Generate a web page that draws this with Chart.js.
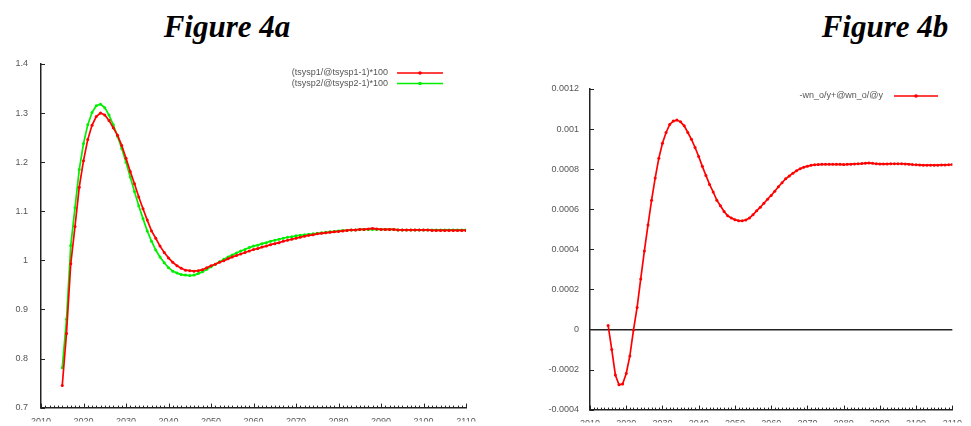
<!DOCTYPE html>
<html>
<head>
<meta charset="utf-8">
<script src="https://cdn.jsdelivr.net/npm/chart.js@4.4.1/dist/chart.umd.min.js"></script>
<style>
  html, body { margin: 0; padding: 0; background: #fff; }
  body { width: 971px; height: 426px; position: relative; overflow: hidden; }
  .title { position: absolute; top: 9px; width: 200px; text-align: center; line-height: 31px;
           font: bold italic 31px "Liberation Serif", "Times New Roman", serif; color: #000; }
  .box { position: absolute; top: 0; height: 426px; }
</style>
</head>
<body>
<div class="title" style="left:127px">Figure 4a</div>
<div class="title" style="left:785px">Figure 4b</div>
<div class="box" style="left:0; width:485px"><canvas id="chartA"></canvas></div>
<div class="box" style="left:490px; width:481px"><canvas id="chartB"></canvas></div>
<script>
// years 2015..2110
const years = [];
for (let y = 2015; y <= 2110; y++) years.push(y);

const sp1 = [
  0.745, 0.851, 0.993, 1.069, 1.149, 1.203, 1.246, 1.275, 1.293, 1.300,
  1.296, 1.285, 1.270, 1.255, 1.234, 1.208, 1.181, 1.156, 1.129, 1.105,
  1.082, 1.060, 1.045, 1.029, 1.016, 1.005, 0.996, 0.989, 0.984, 0.980,
  0.979, 0.978, 0.979, 0.981, 0.985, 0.989, 0.992, 0.996, 0.999, 1.003,
  1.007, 1.010, 1.013, 1.016, 1.019, 1.022, 1.024, 1.027, 1.029, 1.032,
  1.034, 1.036, 1.039, 1.041, 1.043, 1.045, 1.047, 1.049, 1.051, 1.052,
  1.054, 1.055, 1.056, 1.057, 1.058, 1.059, 1.060, 1.061, 1.062, 1.062,
  1.063, 1.063, 1.064, 1.065, 1.064, 1.063, 1.063, 1.063, 1.063, 1.062,
  1.062, 1.062, 1.062, 1.062, 1.062, 1.062, 1.062, 1.061, 1.061, 1.061,
  1.061, 1.061, 1.061, 1.061, 1.061, 1.061
];
const sp2 = [
  0.781, 0.880, 1.030, 1.107, 1.185, 1.238, 1.276, 1.301, 1.315, 1.318,
  1.311, 1.296, 1.276, 1.253, 1.228, 1.200, 1.170, 1.140, 1.111, 1.085,
  1.060, 1.039, 1.021, 1.007, 0.995, 0.985, 0.978, 0.974, 0.971, 0.970,
  0.969, 0.970, 0.973, 0.977, 0.982, 0.987, 0.992, 0.997, 1.002, 1.007,
  1.011, 1.015, 1.019, 1.022, 1.026, 1.029, 1.031, 1.034, 1.036, 1.039,
  1.041, 1.043, 1.045, 1.047, 1.048, 1.050, 1.051, 1.052, 1.053, 1.054,
  1.055, 1.056, 1.057, 1.058, 1.059, 1.060, 1.061, 1.061, 1.062, 1.062,
  1.063, 1.063, 1.063, 1.063, 1.063, 1.063, 1.063, 1.063, 1.063, 1.062,
  1.062, 1.062, 1.062, 1.062, 1.062, 1.062, 1.062, 1.062, 1.062, 1.062,
  1.062, 1.062, 1.062, 1.062, 1.062, 1.062
];
const wno = [
  0.00002, -0.00010, -0.000227, -0.000276, -0.000272, -0.00022, -0.000132, -0.000003, 0.00011, 0.000252,
  0.000391, 0.000521, 0.000645, 0.000756, 0.000855, 0.000929, 0.000983, 0.001023, 0.001040, 0.001045,
  0.001036, 0.001016, 0.000983, 0.000949, 0.000908, 0.000863, 0.000814, 0.000768, 0.000724, 0.000686,
  0.000645, 0.000617, 0.000589, 0.000567, 0.000556, 0.000548, 0.000543, 0.000542, 0.000546, 0.000556,
  0.000573, 0.000592, 0.000610, 0.000630, 0.000650, 0.000669, 0.000690, 0.000712, 0.000732, 0.000752,
  0.000766, 0.000780, 0.000792, 0.000802, 0.000810, 0.000815, 0.000819, 0.000822, 0.000823, 0.000824,
  0.000824, 0.000824, 0.000824, 0.000824, 0.000824, 0.000823, 0.000824, 0.000825, 0.000826, 0.000827,
  0.000828, 0.000830, 0.000831, 0.000829, 0.000827, 0.000826, 0.000826, 0.000826, 0.000827, 0.000827,
  0.000827, 0.000827, 0.000826, 0.000825, 0.000823, 0.000822, 0.000821, 0.000820, 0.000820, 0.000820,
  0.000820, 0.000820, 0.000821, 0.000821, 0.000822, 0.000823
];

const labelsA = ['(tsysp1/@tsysp1-1)*100', '(tsysp2/@tsysp2-1)*100'];
const labelsB = ['-wn_o/y+@wn_o/@y'];

const axisColor = '#222';
const tickFont = { family: 'Liberation Sans, Arial, sans-serif', size: 9 };

// small tick marks drawn inside the plot, one per year, longer every 10 years
const innerTicks = {
  id: 'innerTicks',
  afterDraw(chart) {
    const ctx = chart.ctx, xs = chart.scales.x, ys = chart.scales.y;
    const bottom = chart.chartArea.bottom, left = chart.chartArea.left;
    ctx.save();
    ctx.strokeStyle = axisColor;
    ctx.lineWidth = 1;
    ctx.beginPath();
    for (let yr = xs.min; yr <= xs.max; yr++) {
      const px = Math.round(xs.getPixelForValue(yr)) + 0.5;
      const len = yr % 10 === 0 ? 4 : 2;
      ctx.moveTo(px, bottom);
      ctx.lineTo(px, bottom - len);
    }
    ys.ticks.forEach(t => {
      const py = Math.round(ys.getPixelForValue(t.value)) + 0.5;
      ctx.moveTo(left, py);
      ctx.lineTo(left + 4, py);
    });
    ctx.stroke();
    ctx.restore();
  }
};

// legend: text right-aligned, then a line sample with a marker
const sideLegend = {
  id: 'sideLegend',
  afterDraw(chart, args, opts) {
    const ctx = chart.ctx;
    ctx.save();
    ctx.font = '9px "Liberation Sans", Arial, sans-serif';
    ctx.textAlign = 'right';
    ctx.textBaseline = 'middle';
    chart.data.datasets.forEach((ds, i) => {
      const y = opts.y + i * opts.gap;
      ctx.fillStyle = '#555';
      ctx.fillText(ds.label, opts.textRight, y);
      ctx.strokeStyle = ds.borderColor;
      ctx.lineWidth = 1.5;
      ctx.beginPath();
      ctx.moveTo(opts.lineFrom, y);
      ctx.lineTo(opts.lineTo, y);
      ctx.stroke();
      ctx.fillStyle = ds.borderColor;
      ctx.beginPath();
      ctx.arc((opts.lineFrom + opts.lineTo) / 2, y, 1.8, 0, Math.PI * 2);
      ctx.fill();
    });
    ctx.restore();
  }
};

function makeOptions(yMin, yMax, yStep, digits, axisLeft, axisBottom, padRight, padTop, labelPad, legend, zeroLine) {
  return {
    responsive: true,
    maintainAspectRatio: false,
    animation: false,
    layout: { padding: { left: 0, right: padRight, top: padTop, bottom: 0 } },
    plugins: { legend: { display: false }, tooltip: { enabled: false }, sideLegend: legend },
    elements: {
      line: { borderWidth: 1.7, tension: 0 },
      point: { radius: 1.5, borderWidth: 0, hoverRadius: 1.5 }
    },
    scales: {
      x: {
        type: 'linear', min: 2010, max: 2110,
        ticks: { stepSize: 10, color: '#555', font: tickFont, padding: 9, maxRotation: 0,
                 callback: v => String(v) },
        grid: { display: false, drawTicks: false },
        border: { display: true, color: axisColor, width: 1.5 },
        afterFit: s => { s.height = axisBottom; }
      },
      y: {
        min: yMin, max: yMax,
        ticks: { stepSize: yStep, color: '#555', font: tickFont, padding: labelPad,
                 callback: v => String(+v.toFixed(digits)) },
        grid: {
          display: zeroLine, drawTicks: false,
          color: c => (c.tick && Math.abs(c.tick.value) < 1e-9) ? '#222' : 'rgba(0,0,0,0)',
          lineWidth: 1.5
        },
        border: { display: true, color: axisColor, width: 1.5 },
        afterFit: s => { s.width = axisLeft; }
      }
    }
  };
}

new Chart(document.getElementById('chartA'), {
  type: 'line',
  data: {
    labels: years,
    datasets: [
      { label: labelsA[0], data: years.map((x, i) => ({ x, y: sp1[i] })), borderColor: '#ff0000', backgroundColor: '#ff0000', pointBackgroundColor: '#ff0000' },
      { label: labelsA[1], data: years.map((x, i) => ({ x, y: sp2[i] })), borderColor: '#00ee00', backgroundColor: '#00ee00', pointBackgroundColor: '#00ee00' }
    ]
  },
  options: makeOptions(0.7, 1.4, 0.1, 1, 41, 14, 19, 64, 13,
    { textRight: 388, lineFrom: 397, lineTo: 443, y: 73, gap: 10.5 }, false),
  plugins: [innerTicks, sideLegend]
});

new Chart(document.getElementById('chartB'), {
  type: 'line',
  data: {
    labels: years,
    datasets: [
      { label: labelsB[0], data: years.map((x, i) => ({ x, y: wno[i] })), borderColor: '#ff0000', backgroundColor: '#ff0000', pointBackgroundColor: '#ff0000' }
    ]
  },
  options: makeOptions(-0.0004, 0.0012, 0.0002, 4, 100, 13, 13, 89, 11,
    { textRight: 393, lineFrom: 404, lineTo: 448, y: 96, gap: 10.5 }, true),
  plugins: [innerTicks, sideLegend]
});
</script>
</body>
</html>
